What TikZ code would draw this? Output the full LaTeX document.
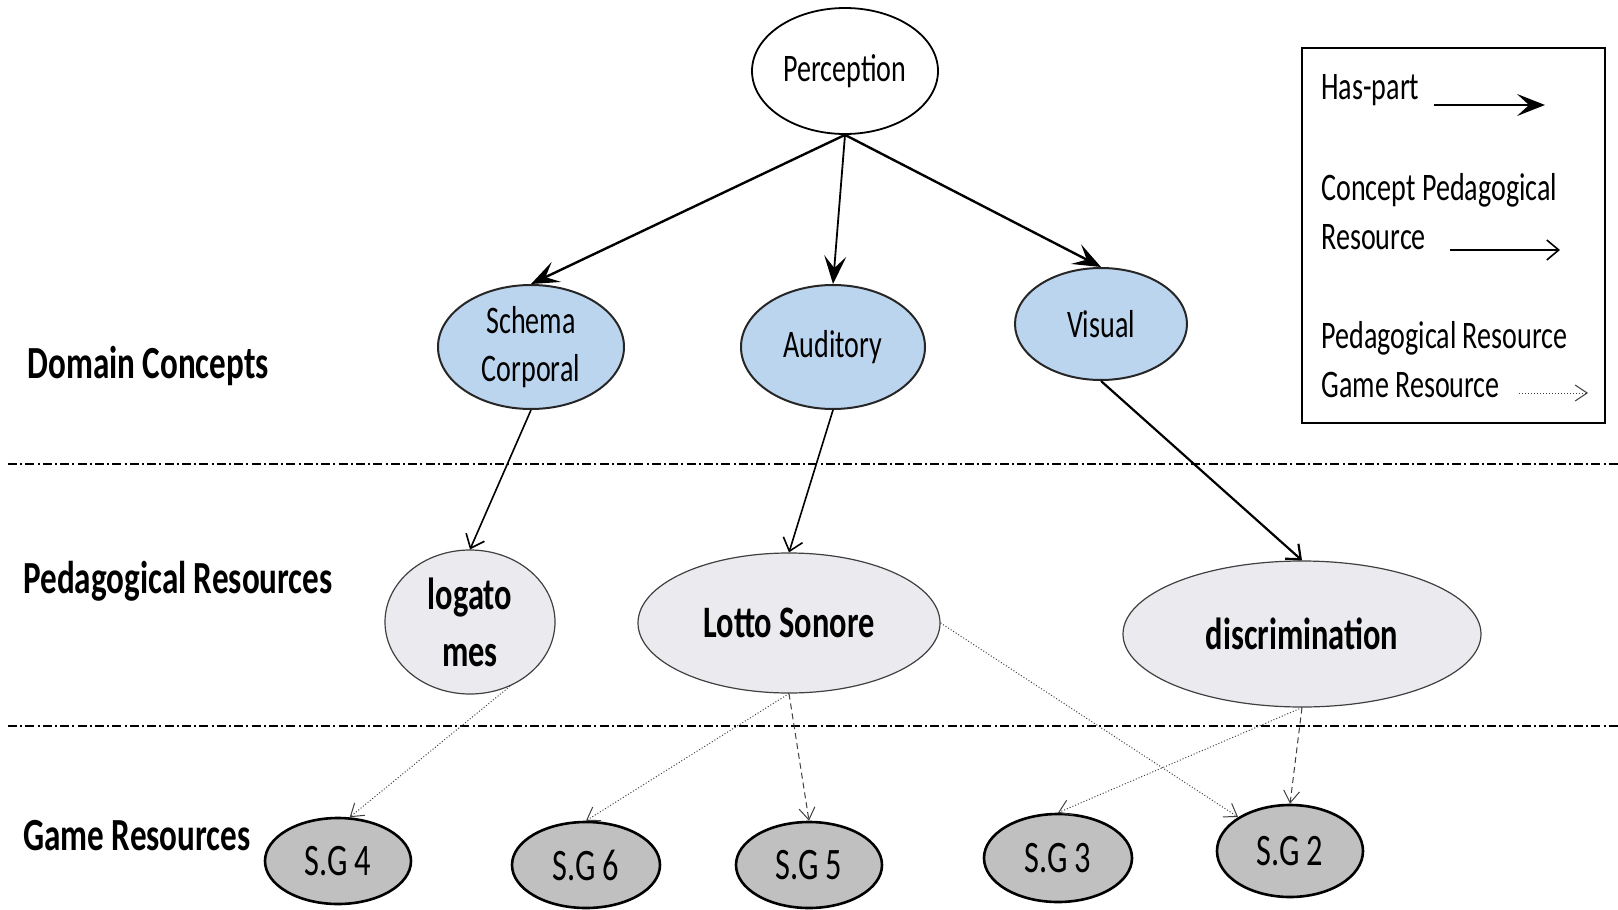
\documentclass[tikz,border=0pt]{standalone}
\usepackage{fontspec}
\setmainfont{Carlito}[FakeStretch=0.72]
\usetikzlibrary{shapes.geometric,arrows.meta}
\definecolor{domblue}{HTML}{BCD5EE}
\definecolor{pedgray}{HTML}{EBEBEF}
\definecolor{gamegray}{HTML}{C0C0C0}
\tikzset{
  ell/.style={ellipse, inner sep=0pt, align=center},
  percnode/.style={ell, draw=black, line width=0.9pt, fill=white, font=\fontsize{19.5}{24}\selectfont},
  domnode/.style={ell, draw=black!85, line width=1pt, fill=domblue, font=\fontsize{19.5}{24}\selectfont},
  pednode/.style={ell, draw=black!75, line width=0.6pt, fill=pedgray, font=\bfseries\fontsize{22.5}{28.5}\selectfont},
  gamenode/.style={ell, draw=black, line width=1.3pt, fill=gamegray, font=\fontsize{22.5}{27}\selectfont},
  rowlabel/.style={anchor=west, inner sep=0pt, font=\bfseries\fontsize{23}{27}\selectfont},
  legtext/.style={anchor=west, inner sep=0pt, align=left, font=\fontsize{19.5}{24.5}\selectfont},
  haspart/.style={-{Stealth[length=14pt,width=11pt,inset=6pt]}, line width=1.2pt, black},
  conceptres/.style={-{Straight Barb[length=6pt,width=10pt]}, line width=0.8pt, black},
  gameres/.style={-{Straight Barb[length=6pt,width=8pt]}, line width=0.5pt, black!75, densely dotted},
  gameresd/.style={-{Straight Barb[length=6pt,width=8pt]}, line width=0.5pt, black!75, densely dashed},
  sepline/.style={line width=0.9pt, dash pattern=on 4.5pt off 1.6pt on 1pt off 1.6pt},
}
\begin{document}
\begin{tikzpicture}[x=0.5pt,y=-0.5pt]
\useasboundingbox (0,0) rectangle (1618,910);

% separator lines
\coordinate (s1a) at (8,464);
\coordinate (s1b) at (1618,464);
\coordinate (s2a) at (8,726);
\coordinate (s2b) at (1618,726);
\draw[sepline] (s1a) -- (s1b);
\draw[sepline] (s2a) -- (s2b);

% row labels
\node[rowlabel] (lab1) at (27,366) {Domain Concepts};
\node[rowlabel] (lab2) at (23,581) {Pedagogical Resources};
\node[rowlabel] (lab3) at (23,836) {Game Resources};

% nodes
\node[percnode, minimum width=93pt, minimum height=63pt] (perc) at (845,71) {Perception};
\node[domnode, minimum width=93pt, minimum height=62pt] (schema) at (531,347) {Schema\\Corporal};
\node[domnode, minimum width=92pt, minimum height=62pt] (aud) at (833,347) {Auditory};
\node[domnode, minimum width=86pt, minimum height=56pt] (vis) at (1101,324) {Visual};

\node[pednode, minimum width=85pt, minimum height=72pt] (logato) at (470,622) {logato\\mes};
\node[pednode, minimum width=151pt, minimum height=70pt] (lotto) at (789,623) {Lotto Sonore};
\node[pednode, minimum width=179pt, minimum height=73pt] (disc) at (1302,634) {discrimination};

\node[gamenode, minimum width=73pt, minimum height=43pt] (sg4) at (338,861) {S.G 4};
\node[gamenode, minimum width=74pt, minimum height=43pt] (sg6) at (586,865) {S.G 6};
\node[gamenode, minimum width=73pt, minimum height=43pt] (sg5) at (809,865) {S.G 5};
\node[gamenode, minimum width=74pt, minimum height=44pt] (sg3) at (1058,858) {S.G 3};
\node[gamenode, minimum width=73pt, minimum height=46pt] (sg2) at (1290,851) {S.G 2};

% has-part
\draw[haspart] (perc.south) -- (schema.north);
\draw[haspart, line width=0.9pt] (perc.south) -- (aud.north);
\draw[haspart] (perc.south) -- (vis.north);

% concept -> pedagogical resource
\draw[conceptres] (schema.south) -- (logato.north);
\draw[conceptres] (aud.south) -- (lotto.north);
\draw[conceptres, line width=1.1pt] (vis.south) -- (disc.north);

% pedagogical resource -> game resource
\draw[gameres] (logato.-58) -- (sg4.75);
\draw[gameres] (lotto.south) -- (sg6.north);
\draw[gameresd] (lotto.south) -- (sg5.north);
\draw[gameres] (lotto.east) -- (sg2);
\draw[gameres] (disc.south) -- (sg3.north);
\draw[gameresd] (disc.south) -- (sg2.north);

% legend
\node[draw=black, line width=1pt, minimum width=151.5pt, minimum height=187.5pt, inner sep=0pt] (legend) at (1453.5,235.5) {};
\node[legtext] (lt1) at (1321,90) {Has-part};
\node[legtext] (lt2) at (1321,212) {Concept Pedagogical\\Resource};
\node[legtext] (lt3) at (1321,360) {Pedagogical Resource\\Game Resource};
\coordinate (la1) at (1434,105);
\coordinate (lb1) at (1545,105);
\coordinate (la2) at (1450,250);
\coordinate (lb2) at (1560,250);
\coordinate (la3) at (1519,393);
\coordinate (lb3) at (1588,393);
\draw[haspart] (la1) -- (lb1);
\draw[conceptres] (la2) -- (lb2);
\draw[gameres] (la3) -- (lb3);
\end{tikzpicture}
\end{document}
